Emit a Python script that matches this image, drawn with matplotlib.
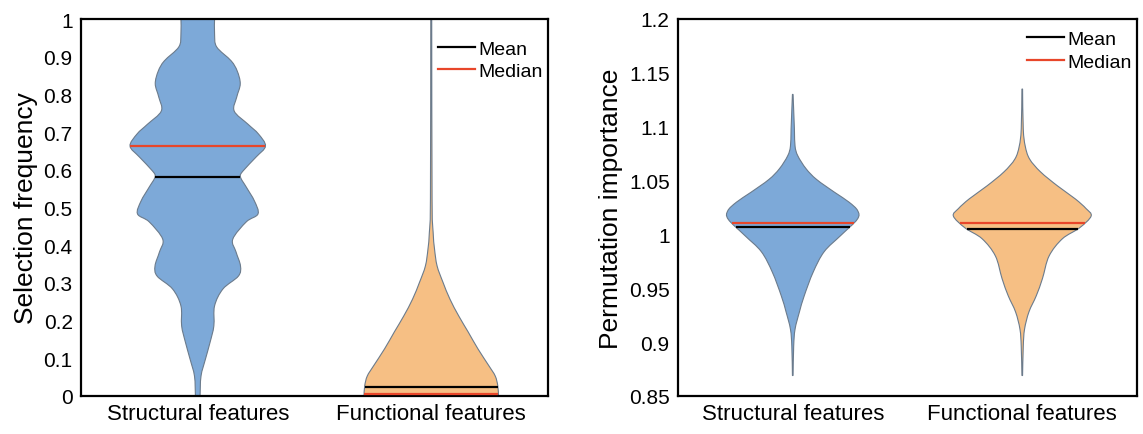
import numpy as np
import matplotlib
matplotlib.use("Agg")
import matplotlib.pyplot as plt
from matplotlib.path import Path
from matplotlib.patches import PathPatch
from matplotlib.ticker import FuncFormatter

plt.rcParams['font.family'] = ['Liberation Sans', 'DejaVu Sans']

categories = ['Structural features', 'Functional features']

# violin outlines: y value and half width (x data units)
sel_struct_y = [1.0, 0.96, 0.926, 0.889, 0.862, 0.828, 0.793, 0.756, 0.721, 0.695,
                0.663, 0.634, 0.597, 0.581, 0.554, 0.517, 0.483, 0.462, 0.416, 0.382,
                0.345, 0.318, 0.284, 0.239, 0.186, 0.143, 0.098, 0.053, 0.0]
sel_struct_w = [0.072, 0.072, 0.081, 0.143, 0.169, 0.182, 0.167, 0.156, 0.215, 0.26,
                0.29, 0.25, 0.194, 0.183, 0.208, 0.243, 0.258, 0.208, 0.15, 0.164,
                0.183, 0.174, 0.108, 0.072, 0.069, 0.053, 0.033, 0.014, 0.01]
sel_func_y = [1.0, 0.523, 0.435, 0.39, 0.345, 0.302, 0.257, 0.212, 0.17, 0.125,
              0.08, 0.053, 0.027, 0.0]
sel_func_w = [0.002, 0.0035, 0.008, 0.014, 0.025, 0.05, 0.08, 0.118, 0.158, 0.2,
              0.247, 0.274, 0.285, 0.288]
sel_mean = [0.581, 0.024]
sel_median = [0.663, 0.006]

perm_struct_y = [1.130, 1.098, 1.082, 1.073, 1.061, 1.051, 1.039, 1.030, 1.022, 1.014,
                 0.999, 0.984, 0.965, 0.943, 0.928, 0.912, 0.896, 0.869]
perm_struct_w = [0.0014, 0.0072, 0.01, 0.022, 0.058, 0.104, 0.183, 0.245, 0.283, 0.281,
                 0.209, 0.137, 0.089, 0.05, 0.029, 0.01, 0.004, 0.0014]
perm_func_y = [1.135, 1.098, 1.082, 1.070, 1.058, 1.045, 1.033, 1.024, 1.017, 1.006,
               0.996, 0.980, 0.959, 0.943, 0.928, 0.912, 0.896, 0.869]
perm_func_w = [0.0014, 0.0044, 0.013, 0.032, 0.08, 0.154, 0.231, 0.278, 0.30, 0.249,
               0.175, 0.117, 0.088, 0.061, 0.029, 0.01, 0.0044, 0.0014]
perm_mean = [1.007, 1.005]
perm_median = [1.011, 1.011]

sel_ticks = [0, 0.1, 0.2, 0.3, 0.4, 0.5, 0.6, 0.7, 0.8, 0.9, 1]
perm_ticks = [0.85, 0.9, 0.95, 1, 1.05, 1.1, 1.15, 1.2]

colors = ['#7DA9D8', '#F6BF84']
edge = '#6B7B8C'
median_color = '#E8462A'


def smooth_side(pts):
    # Catmull-Rom through the read points, as cubic bezier segments
    pts = np.asarray(pts, dtype=float)
    ext = np.vstack([pts[0], pts, pts[-1]])
    verts, codes = [], []
    for i in range(1, len(ext) - 2):
        p0, p1, p2, p3 = ext[i - 1], ext[i], ext[i + 1], ext[i + 2]
        verts += [p1 + (p2 - p0) / 6, p2 - (p3 - p1) / 6, p2]
        codes += [Path.CURVE4] * 3
    return verts, codes


def draw_violin(ax, pos, ys, ws, color, mean, median):
    ys = np.array(ys)
    ws = np.array(ws)
    right = np.column_stack([pos + ws, ys])
    left = np.column_stack([pos - ws, ys])[::-1]
    v1, c1 = smooth_side(right)
    v2, c2 = smooth_side(left)
    verts = [right[0]] + v1 + [left[0]] + v2 + [right[0]]
    codes = [Path.MOVETO] + c1 + [Path.LINETO] + c2 + [Path.CLOSEPOLY]
    ax.add_patch(PathPatch(Path(verts, codes), facecolor=color, edgecolor=edge,
                           linewidth=0.8, zorder=2))
    order = np.argsort(ys)
    for val, c in ((median, median_color), (mean, 'black')):
        hw = np.interp(val, ys[order], ws[order])
        ax.plot([pos - hw, pos + hw], [val, val], color=c, lw=1.6, zorder=3,
                solid_capstyle='butt')


def style(ax, ylim, ticks, ylabel, leg_y):
    ax.set_xlim(0.5, 2.5)
    ax.set_ylim(*ylim)
    ax.set_xticks([1, 2])
    ax.set_xticklabels(categories, fontsize=16)
    ax.set_yticks(ticks)
    ax.yaxis.set_major_formatter(FuncFormatter(lambda v, p: '%g' % v))
    ax.tick_params(axis='y', length=0, labelsize=15, pad=6)
    ax.tick_params(axis='x', length=0, pad=5)
    ax.set_ylabel(ylabel, fontsize=19, labelpad=4)
    for s in ax.spines.values():
        s.set_linewidth(1.6)
        s.set_color('black')
    ax.plot([], [], color='black', lw=1.6, label='Mean')
    ax.plot([], [], color=median_color, lw=1.6, label='Median')
    ax.legend(loc='upper right', bbox_to_anchor=(1.005, leg_y), frameon=False,
              fontsize=14, handlelength=1.9, handletextpad=0.15, labelspacing=0.25,
              borderaxespad=0)


fig = plt.figure(figsize=(11.43, 4.35), dpi=100)
ax1 = fig.add_axes([81 / 1143, 38 / 435, 467 / 1143, 377 / 435])
ax2 = fig.add_axes([678 / 1143, 38 / 435, 459 / 1143, 377 / 435])

draw_violin(ax1, 1, sel_struct_y, sel_struct_w, colors[0], sel_mean[0], sel_median[0])
draw_violin(ax1, 2, sel_func_y, sel_func_w, colors[1], sel_mean[1], sel_median[1])
style(ax1, (0, 1), sel_ticks, 'Selection frequency', 0.965)

draw_violin(ax2, 1, perm_struct_y, perm_struct_w, colors[0], perm_mean[0], perm_median[0])
draw_violin(ax2, 2, perm_func_y, perm_func_w, colors[1], perm_mean[1], perm_median[1])
style(ax2, (0.85, 1.2), perm_ticks, 'Permutation importance', 0.99)

fig.savefig('out.png', dpi=100)
